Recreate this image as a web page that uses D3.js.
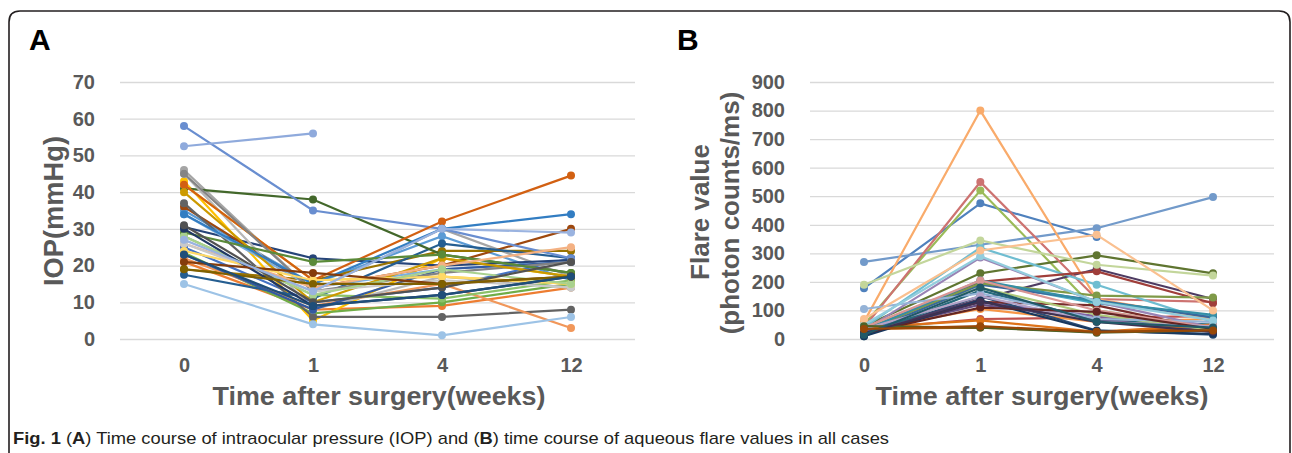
<!DOCTYPE html>
<html>
<head>
<meta charset="utf-8">
<script src="https://cdn.jsdelivr.net/npm/d3@7"></script>
<style>
body { margin: 0; background: #fff; }
svg { display: block; font-family: "Liberation Sans", Arial, sans-serif; }
</style>
</head>
<body>
<svg id="fig" width="1292" height="453"></svg>
<script>
// time points (weeks after surgery)
var weeks = ["0", "1", "4", "12"];

// panel A: IOP (mmHg) per eye, at weeks 0,1,4,12
var iopSeries = [
  [25, 10, 14, 22], [21, 8, 9, 14], [46, 13, 30, 17], [43, 5, 22, 17],
  [35, 15, 28, 16], [23.5, 7, 10, 15], [30.5, 22, 20, 21.5], [36, 14, 20, 30],
  [37, 6, 6, 8], [19, 16, 24, 24], [17.5, 11, 26, 22], [41, 38, 23, 18],
  [58, 35, 30, 22], [22, 9, 15, 3], [45, 8, 17, 14], [42, 16, 17, 15],
  [34, 14, 19, 21], [28, 12, 11, 16], [23, 8, 19, 21], [42, 16, 32, 44.5],
  [45, 13, 18, 21], [40, 10, 22, 17], [34, 15, 30, 34], [29, 21, 23, 18],
  [52.5, 56, null, null], [26, 14, 20, 25], [26, 13, 16, 14], [24, 16, 17, 15],
  [15, 4, 1, 6], [28, 12, 19, 15], [30, 9, 12, 17], [21, 18, 15, 17],
  [31, 10, 14, 21], [19, 15, 15, 17], [23, 9, 12, 17], [27, 13, 30, 29]
];
var iopColors = [
  "#4472C4", "#ED7D31", "#A5A5A5", "#FFC000", "#5B9BD5", "#70AD47",
  "#264478", "#9E480E", "#636363", "#997300", "#255E91", "#43682B",
  "#698ED0", "#F1975A", "#B7B7B7", "#FFCD33", "#7CAFDD", "#8CC168",
  "#335AA1", "#D26012", "#848484", "#CC9A00", "#327DC2", "#5A8A39",
  "#8FAADC", "#F4B183", "#C9C9C9", "#FFD966", "#9DC3E6", "#A9D18E",
  "#203864", "#843C0C", "#525252", "#7F6000", "#1F4E79", "#9AB3E0"
];
var iopTicks = [0, 10, 20, 30, 40, 50, 60, 70];

// panel B: flare (photon counts/ms) per eye, at weeks 0,1,4,12
var flareSeries = [
  [178, 475, 357, null], [35, 70, 75, 80], [50, 520, 100, 40], [30, 130, 80, 35],
  [25, 200, 125, 80], [30, 105, 60, 70], [15, 150, 30, 15], [25, 130, 118, 30],
  [45, 230, 293, 230], [20, 140, 245, 140], [10, 170, 65, 50], [35, 40, 25, 40],
  [270, 330, 388, 497], [40, 550, 140, 130], [40, 180, 85, 30], [30, 285, 130, 40],
  [40, 320, 190, 60], [60, 800, 140, 70], [20, 190, 135, 75], [30, 200, 237, 125],
  [30, 195, 152, 145], [25, 120, 70, 25], [30, 205, 130, 85], [40, 65, 25, 50],
  [105, 160, 70, 60], [40, 205, 100, 40], [190, 345, 260, 222], [35, 150, 60, 45],
  [50, 290, 130, 65], [70, 310, 365, 100], [10, 135, 28, 18], [20, 110, 95, 35],
  [45, 40, 22, 30], [20, 130, 60, 25], [15, 180, 60, 40], [35, 45, 25, 30]
];
var flareColors = [
  "#4F81BD", "#C0504D", "#9BBB59", "#8064A2", "#4BACC6", "#F79646",
  "#2C4D75", "#772C2A", "#5F7530", "#4D3B62", "#276A7C", "#B65708",
  "#729ACA", "#CD7371", "#AFC97A", "#9983B5", "#6FBDD1", "#F9AB6B",
  "#3A679C", "#9F3E3A", "#7F9A48", "#664F83", "#358EA6", "#DE7319",
  "#95B3D7", "#D99694", "#C3D69B", "#B3A2C7", "#93CDDD", "#FAC090",
  "#17375E", "#632523", "#4F6228", "#3F3151", "#215968", "#984807"
];
var flareTicks = [0, 100, 200, 300, 400, 500, 600, 700, 800, 900];

var svg = d3.select("#fig");

// outer frame, open at the bottom
svg.append("path")
  .attr("d", "M9,470 L9,22 Q9,11 20,11 L1279,11 Q1290,11 1290,22 L1290,470")
  .attr("fill", "none")
  .attr("stroke", "#231f20")
  .attr("stroke-width", 1.6);

function drawPanel(p) {
  var g = svg.append("g");

  var x = d3.scalePoint().domain(weeks).range(p.xRange);
  var y = d3.scaleLinear().domain([0, d3.max(p.ticks)]).range([339, 82]);

  // gridlines + y tick labels
  var yAxis = g.append("g")
    .attr("transform", "translate(" + p.gridLeft + ",0)")
    .call(d3.axisLeft(y).tickValues(p.ticks)
      .tickSize(-(p.gridRight - p.gridLeft)).tickPadding(25));
  yAxis.select(".domain").remove();
  yAxis.selectAll("line").attr("stroke", "#d9d9d9").attr("stroke-width", 1.3);
  yAxis.selectAll("text")
    .attr("fill", "#595959").style("font-size", "20px").style("font-weight", "bold");

  // x tick labels
  var xAxis = g.append("g")
    .attr("transform", "translate(0,339)")
    .call(d3.axisBottom(x).tickSize(0).tickPadding(19));
  xAxis.select(".domain").remove();
  xAxis.selectAll("text")
    .attr("fill", "#595959").style("font-size", "20px").style("font-weight", "bold");

  var line = d3.line()
    .defined(function(d) { return d != null; })
    .x(function(d, i) { return x(weeks[i]); })
    .y(function(d) { return y(d); });

  var series = g.selectAll("g.series")
    .data(p.series)
    .enter().append("g").attr("class", "series");

  series.append("path")
    .attr("d", function(d) { return line(d); })
    .attr("fill", "none")
    .attr("stroke", function(d, i) { return p.colors[i % p.colors.length]; })
    .attr("stroke-width", 2.2);

  series.each(function(d, i) {
    var col = p.colors[i % p.colors.length];
    d3.select(this).selectAll("circle")
      .data(d.map(function(v, k) { return {v: v, k: k}; })
        .filter(function(o) { return o.v != null; }))
      .enter().append("circle")
      .attr("cx", function(o) { return x(weeks[o.k]); })
      .attr("cy", function(o) { return y(o.v); })
      .attr("r", 4)
      .attr("fill", col);
  });

  // x axis title
  g.append("text")
    .attr("x", p.xTitleX).attr("y", 405)
    .attr("text-anchor", "middle")
    .attr("textLength", 333).attr("lengthAdjust", "spacingAndGlyphs")
    .attr("fill", "#595959")
    .style("font-size", "25px").style("font-weight", "bold")
    .text("Time after surgery(weeks)");

  // panel letter
  g.append("text")
    .attr("x", p.letterX).attr("y", 50)
    .attr("fill", "#000")
    .style("font-size", "30px").style("font-weight", "bold")
    .text(p.letter);

  return g;
}

var gA = drawPanel({
  series: iopSeries, colors: iopColors, ticks: iopTicks,
  xRange: [184, 571], gridLeft: 120, gridRight: 635,
  xTitleX: 379, letter: "A", letterX: 29
});
gA.append("text")
  .attr("transform", "translate(63,211) rotate(-90)")
  .attr("text-anchor", "middle")
  .attr("textLength", 150).attr("lengthAdjust", "spacingAndGlyphs")
  .attr("fill", "#595959")
  .style("font-size", "27px").style("font-weight", "bold")
  .text("IOP(mmHg)");

var gB = drawPanel({
  series: flareSeries, colors: flareColors, ticks: flareTicks,
  xRange: [864, 1213], gridLeft: 810, gridRight: 1274,
  xTitleX: 1042, letter: "B", letterX: 677
});
gB.append("text")
  .attr("transform", "translate(709,212) rotate(-90)")
  .attr("text-anchor", "middle")
  .attr("fill", "#595959")
  .style("font-size", "26px").style("font-weight", "bold")
  .text("Flare value");
gB.append("text")
  .attr("transform", "translate(739,213) rotate(-90)")
  .attr("text-anchor", "middle")
  .attr("fill", "#595959")
  .style("font-size", "26px").style("font-weight", "bold")
  .text("(photon counts/ms)");

// caption
var cap = svg.append("text")
  .attr("x", 13).attr("y", 444)
  .attr("textLength", 876).attr("lengthAdjust", "spacingAndGlyphs")
  .attr("fill", "#231f20")
  .style("font-size", "17px");
cap.append("tspan").style("font-weight", "bold").text("Fig. 1");
cap.append("tspan").text(" (");
cap.append("tspan").style("font-weight", "bold").text("A");
cap.append("tspan").text(") Time course of intraocular pressure (IOP) and (");
cap.append("tspan").style("font-weight", "bold").text("B");
cap.append("tspan").text(") time course of aqueous flare values in all cases");
</script>
</body>
</html>
